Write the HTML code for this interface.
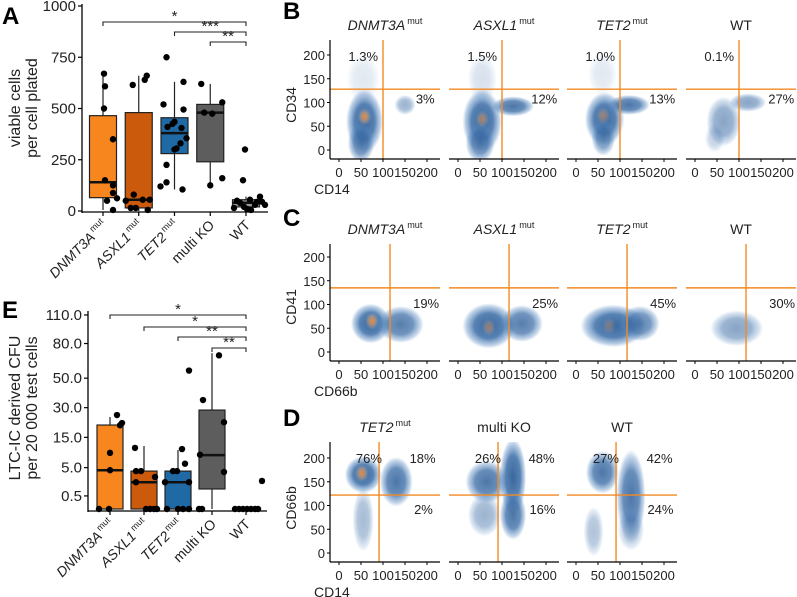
<!DOCTYPE html>
<html><head><meta charset="utf-8"><style>
body{margin:0;background:#fff}
svg{display:block;font-family:"Liberation Sans",Arial,sans-serif}
</style></head><body>
<svg id="fig" width="797" height="597" viewBox="0 0 797 597" xmlns="http://www.w3.org/2000/svg">
<defs>
<radialGradient id="gb"><stop offset="0" stop-color="#2f5f98" stop-opacity="0.95"/><stop offset="0.55" stop-color="#3a6ca6" stop-opacity="0.85"/><stop offset="0.85" stop-color="#5588c0" stop-opacity="0.4"/><stop offset="1" stop-color="#6b9ad0" stop-opacity="0"/></radialGradient>
<radialGradient id="go"><stop offset="0" stop-color="#f08a3c" stop-opacity="0.95"/><stop offset="0.5" stop-color="#d9a070" stop-opacity="0.6"/><stop offset="1" stop-color="#9ab" stop-opacity="0"/></radialGradient>
</defs>
</svg>
<script>
// ---------- Panel A data ----------
const aCats=['DNMT3A','ASXL1','TET2','multi KO','WT'];
const aTicks=[0,250,500,750,1000];
const aQ1=[65,15,280,240,20];
const aMed=[140,55,380,480,40];
const aQ3=[465,480,455,520,55];
const aLo=[5,0,105,125,0];
const aHi=[670,660,630,620,70];
const aPts=[
 [670,608,500,350,150,125,88,62,50,5],
 [660,640,615,80,55,50,15,15,5,55],
 [750,630,520,495,435,425,410,405,355,330,305,300,225,140,120,105],
 [620,530,480,475,160,125],
 [300,150,70,55,50,45,40,30,20,15,10,5,45,30]];
const aJit=[
 [1,2,1,10,2,10,10,14,4,10],
 [8,6,-6,-5,4,-13,-8,-3,9,11],
 [-8,9,-11,9,0,-2,-7,7,12,6,2,0,-8,-8,-14,8],
 [-9,12,-6,2,12,0],
 [-1,-3,14,4,-9,11,-6,9,-2,-12,1,5,16,19]];
const aSig=[[0,4,'*'],[2,4,'***'],[3,4,'**']];
// ---------- Panel E data ----------
const eTicks=[0.5,5,15,30,50,80,110];
const eQ1=[0,0,0,1.17,0];
const eMed=[4.4,2.1,2.1,8.5,0];
const eQ3=[20.6,4.2,4.2,28.6,0];
const eLo=[0,0,0,0,0];
const eHi=[24.7,11.6,10.2,71,0];
const ePts=[
 [25.8,21.6,20.5,9.2,4.4,0,0],
 [10.9,4.2,4.2,2.1,3.0,0,0,0,0],
 [56,10.5,6,4.2,4.2,2.1,2.1,0,0,0,0],
 [69,34.7,22,8.6,4.0,0,0],
 [0,0,0,0,0,0,0,2.3]];
const eJit=[
 [7,12,10,0,0,-11,-1],
 [-9,-8,-3,-8,11,2,6,10,13],
 [11,4,7,-5,-1,-13,11,-11,0,5,11],
 [7,-9,12,-12,12,-13,-10],
 [-11,-7,-3,1,5,9,12,16]];
const eSig=[[0,4,'*'],[1,4,'*'],[2,4,'**'],[3,4,'**']];
const colors=['#f8861e','#cc5a0c','#1f6aa5','#5d5d5d','#9a9a9a'];
// ---------- Flow data ----------
const flowTicks=[0,50,100,150,200];
const bTitles=['DNMT3A','ASXL1','TET2','WT'];
const bGate=[100,128];
const bPctUL=['1.3%','1.5%','1.0%','0.1%'];
const bPctR=['3%','12%','13%','27%'];
const bClusters=[
 [[58,60,28,45,1],[50,15,20,28,0.8],[150,95,16,14,0.5],[55,150,25,35,0.15]],
 [[55,60,30,45,1],[50,15,22,28,0.8],[125,92,32,14,0.9],[55,150,22,35,0.2]],
 [[65,65,30,38,1],[62,25,18,25,0.7],[120,95,32,14,0.9],[60,160,22,30,0.15]],
 [[65,60,26,35,0.6],[120,100,28,13,0.6],[45,25,15,20,0.3]]];
const bCores=[[58,70,1],[55,65,0.7],[62,72,0.6],[0,0,0]];
const cTitles=['DNMT3A','ASXL1','TET2','WT'];
const cGate=[116,135];
const cPct=['19%','25%','45%','30%'];
const cClusters=[
 [[72,60,30,28,1],[140,58,35,26,0.85]],
 [[70,55,40,32,1],[145,60,32,26,0.85]],
 [[85,55,50,30,1],[145,60,30,25,0.8]],
 [[95,50,40,25,0.6]]];
const cCores=[[75,65,1],[70,52,0.6],[75,55,0.4],[0,0,0]];
const dTitles=['TET2','multi KO','WT'];
const dGate=[91,122];
const dPct=[['76%','18%','2%'],['26%','48%','16%'],['27%','42%','24%']];
const dClusters=[
 [[55,165,28,26,1],[130,150,25,35,0.9],[55,70,16,45,0.45]],
 [[65,150,32,30,0.9],[125,160,20,55,1],[125,80,20,35,0.9],[60,80,25,30,0.5]],
 [[60,170,25,30,0.9],[125,120,22,65,0.9],[40,45,15,35,0.4],[125,50,20,30,0.4]]];
const dCores=[[52,168,1],[0,0,0],[0,0,0]];

const svg=document.getElementById('fig');
const NS='http://www.w3.org/2000/svg';
function el(tag,attrs,parent){const e=document.createElementNS(NS,tag);for(const k in attrs)e.setAttribute(k,attrs[k]);(parent||svg).appendChild(e);return e;}
function txt(s,attrs,parent){const t=el('text',attrs,parent);t.textContent=s;return t;}
function geneLabel(t,name){
  if(name==='multi KO'||name==='WT'){t.textContent=name;return;}
  const a=document.createElementNS(NS,'tspan');a.setAttribute('font-style','italic');a.textContent=name;t.appendChild(a);
  const b=document.createElementNS(NS,'tspan');b.setAttribute('font-size','0.65em');b.setAttribute('dy','-6');b.setAttribute('dx','2');b.textContent='mut';t.appendChild(b);
}

// ---------- Box plot generic ----------
function boxPanel(o){
  const g=el('g',{});
  
  
  const xC=i=>o.x0+i*o.pitch;
  const ya=el('line',{x1:o.axX,x2:o.axX,y1:o.axTop,y2:o.axBot+1,stroke:'#000','stroke-width':1.3},g);
  
  const xa=el('line',{x1:o.axX,x2:o.axR,y1:o.axBot,y2:o.axBot,stroke:'#000','stroke-width':1.3},g);
  
  o.ticks.forEach(v=>{
    const y=o.y(v);
    el('line',{x1:o.axX-4,x2:o.axX,y1:y,y2:y,stroke:'#000','stroke-width':1.2},g);
    const t=txt(o.fmt(v),{x:o.axX-6,y:y+5,'text-anchor':'end','font-size':15,fill:'#222'},g);
    
  });
  aCats.forEach((c,i)=>{
    const cx=xC(i);
    el('line',{x1:cx,x2:cx,y1:o.axBot,y2:o.axBot+4,stroke:'#000','stroke-width':1.2},g);
    const t=el('text',{'font-size':14,'text-anchor':'end',fill:'#222',transform:`translate(${cx+5},${o.axBot+14}) rotate(-45)`},g);
    geneLabel(t,c);
    
    const w=el('line',{x1:cx,x2:cx,y1:o.y(o.hi[i]),y2:o.y(o.lo[i]),stroke:'#222','stroke-width':1.2},g);
    
    const y3=o.y(o.q3[i]),y1=o.y(o.q1[i]);
    const b=el('rect',{x:cx-o.bw/2,y:y3,width:o.bw,height:Math.max(y1-y3,1),fill:colors[i],stroke:'#222','stroke-width':1.2},g);
    
    const m=el('line',{x1:cx-o.bw/2,x2:cx+o.bw/2,y1:o.y(o.med[i]),y2:o.y(o.med[i]),stroke:'#111','stroke-width':2.5},g);
    
    o.pts[i].forEach((v,j)=>{
      const p=el('circle',{cx:cx+o.jit[i][j],cy:o.y(v),r:3.2,fill:'#000'},g);
      
    });
  });
  o.sig.forEach((s,k)=>{
    const y=o.sigY[k],x1=xC(s[0]),x2=xC(s[1]);
    el('path',{d:`M${x1},${y+4}V${y}H${x2}V${y+4}`,fill:'none',stroke:'#222','stroke-width':1.1},g);
    const t=txt(s[2],{x:(x1+x2)/2,y:y-1,'text-anchor':'middle','font-size':15,fill:'#222'},g);
    
  });
}
boxPanel({name:'panel-a',x0:103,pitch:35.75,bw:27,axX:82,axR:268,axTop:4,axBot:212,
  y:v=>211-0.205*v,ticks:aTicks,fmt:v=>String(v),q1:aQ1,med:aMed,q3:aQ3,lo:aLo,hi:aHi,pts:aPts,jit:aJit,sig:aSig,sigY:[22,32,42]});
boxPanel({name:'panel-e',x0:110,pitch:34,bw:26,axX:88,axR:267,axTop:311,axBot:511,
  y:v=>509-18.5*Math.sqrt(v),ticks:eTicks,fmt:v=>v.toFixed(1),q1:eQ1,med:eMed,q3:eQ3,lo:eLo,hi:eHi,pts:ePts,jit:eJit,sig:eSig,sigY:[315,327,337,348]});

function rotTitle(lines,x,y,name){
  const t=el('text',{'font-size':16,'text-anchor':'middle',fill:'#222',transform:`translate(${x},${y}) rotate(-90)`});
  lines.forEach((s,k)=>{const ts=document.createElementNS(NS,'tspan');ts.setAttribute('x',0);ts.setAttribute('y',k*17);ts.textContent=s;t.appendChild(ts);});
  
}
rotTitle(['viable cells','per cell plated'],20,108,'y-axis-title-a');
rotTitle(['LTC-IC derived CFU','per 20 000 test cells'],20,408,'y-axis-title-e');
[['A',2,24],['E',2,318],['B',283,19],['C',283,226],['D',283,426]].forEach(a=>{
  const t=txt(a[0],{x:a[1],y:a[2],'font-size':24,'font-weight':'bold',fill:'#000'});
  
});

// ---------- Flow panels ----------
const colL=[330,449,567,686];
function flowRow(o){
  const rowG=el('g',{});
  
  
  o.titles.forEach((tt,i)=>{
    const L=colL[i];
    const xs=v=>L+9+0.44*v, ys=v=>o.base-0.475*v;
    const g=el('g',{},rowG);
    
    
    const cid='clip'+o.name+i;
    const cp=el('clipPath',{id:cid},g);el('rect',{x:L,y:o.top,width:110,height:o.base+9-o.top},cp);
    const cg=el('g',{'clip-path':`url(#${cid})`},g);
    o.clusters[i].forEach(c=>{
      const e=el('ellipse',{cx:xs(c[0]),cy:ys(c[1]),rx:c[2]*0.44*1.5,ry:c[3]*0.475*1.5,fill:'url(#gb)',opacity:c[4]},cg);
      
    });
    const core=o.cores[i];
    if(core[2]>0){const e=el('ellipse',{cx:xs(core[0]),cy:ys(core[1]),rx:7,ry:9,fill:'url(#go)',opacity:core[2]},cg);
      }
    const gx=xs(o.gate[0]),gy=ys(o.gate[1]);
    el('line',{x1:gx,x2:gx,y1:o.top,y2:o.base+9,stroke:'#f28a24','stroke-width':1.4},g);
    el('line',{x1:L,x2:L+110,y1:gy,y2:gy,stroke:'#f28a24','stroke-width':1.4},g);
    el('line',{x1:L,x2:L+110,y1:o.base+9,y2:o.base+9,stroke:'#000','stroke-width':1.2},g);
    flowTicks.forEach(v=>{
      el('line',{x1:xs(v),x2:xs(v),y1:o.base+9,y2:o.base+12,stroke:'#000'},g);
      const t=txt(String(v),{x:xs(v),y:o.base+27,'text-anchor':'middle','font-size':13,fill:'#222'},g);
      
    });
    if(i===0){
      el('line',{x1:L,x2:L,y1:o.top,y2:o.base+9,stroke:'#000','stroke-width':1.2},g);
      flowTicks.forEach(v=>{
        el('line',{x1:L-3,x2:L,y1:ys(v),y2:ys(v),stroke:'#000'},g);
        const t=txt(String(v),{x:L-5,y:ys(v)+5,'text-anchor':'end','font-size':13,fill:'#222'},g);
        
      });
    }
    const ti=el('text',{x:L+55,y:o.top-10,'text-anchor':'middle','font-size':14,fill:'#222'},g);
    geneLabel(ti,tt);
    
    o.labels(i).forEach(p=>{
      const t=txt(p[0],{x:xs(p[1]),y:ys(p[2])+5,'text-anchor':'middle','font-size':13,fill:'#222'},g);
      
    });
  });
  const xt=txt(o.xTitle,{x:314,y:o.base+44,'font-size':14,fill:'#222'},rowG);
  
  const yt=txt(o.yTitle,{'font-size':14,'text-anchor':'middle',fill:'#222',transform:`translate(296,${o.base-45}) rotate(-90)`},rowG);
  
}
flowRow({name:'panel-b',titles:bTitles,base:150,top:40,gate:bGate,clusters:bClusters,cores:bCores,
  labels:i=>[[bPctUL[i],55,198],[bPctR[i],196,108]],xTitle:'CD14',yTitle:'CD34'});
flowRow({name:'panel-c',titles:cTitles,base:352,top:244,gate:cGate,clusters:cClusters,cores:cCores,
  labels:i=>[[cPct[i],198,103]],xTitle:'CD66b',yTitle:'CD41'});
flowRow({name:'panel-d',titles:dTitles,base:553,top:442,gate:dGate,clusters:dClusters,cores:dCores,
  labels:i=>[[dPct[i][0],68,200],[dPct[i][1],190,200],[dPct[i][2],192,93]],xTitle:'CD14',yTitle:'CD66b'});
</script>
</body></html>
